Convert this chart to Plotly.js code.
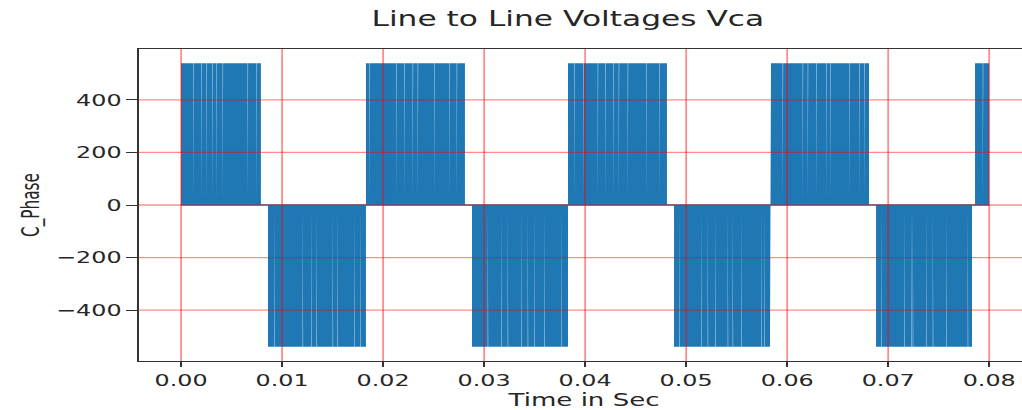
<!DOCTYPE html>
<html>
<head>
<meta charset="utf-8">
<script src="https://cdn.plot.ly/plotly-3.0.1.min.js"></script>
<style>
  html, body { margin: 0; padding: 0; overflow: hidden; background: #fff; width: 1022px; height: 410px; }
  #wrap { width: 1022px; height: 410px; overflow: hidden; }
  #chart { width: 698px; height: 410px; transform: scaleX(1.49); transform-origin: 0 0; }
</style>
</head>
<body>
<div id="wrap"><div id="chart"></div></div>
<script>
// ---- data ----
const chartTitle = 'Line to Line Voltages Vca';
const xLabel = 'Time in Sec';
const yLabel = 'C_Phase';

// PWM blocks of the line voltage (seconds) and their level (V)
const blockStart = [0.0000, 0.0086, 0.0183, 0.0288, 0.0383, 0.0488, 0.0584, 0.0688, 0.0786];
const blockEnd   = [0.0079, 0.0183, 0.0281, 0.0383, 0.0481, 0.0583, 0.0681, 0.0783, 0.0800];
const blockLevel = [540, -540, 540, -540, 540, -540, 540, -540, 540];

// visible notches (short zero-voltage gaps) inside each block (seconds)
const notches1 = [0.00124, 0.00205, 0.00255, 0.00309, 0.00354, 0.00414, 0.00661, 0.00750];
const notches2 = [0.00926, 0.01206, 0.01289, 0.01339, 0.01503, 0.01547, 0.01718, 0.01777];
const notches3 = [0.01866, 0.02131, 0.02213, 0.02295, 0.02345, 0.02510, 0.02658, 0.02731];
const notches4 = [0.03038, 0.03170, 0.03236, 0.03368, 0.03434, 0.03500, 0.03599, 0.03764];
const notches5 = [0.03896, 0.03985, 0.04127, 0.04200, 0.04282, 0.04335, 0.04424, 0.04606, 0.04738];
const notches6 = [0.04936, 0.05150, 0.05216, 0.05292, 0.05414, 0.05463, 0.05547, 0.05745, 0.05777];
const notches7 = [0.05958, 0.06156, 0.06206, 0.06289, 0.06388, 0.06428, 0.06619, 0.06718, 0.06767];
const notches8 = [0.06933, 0.07163, 0.07230, 0.07246, 0.07378, 0.07444, 0.07576, 0.07790];
const notches9 = [0.07939];

const xTicks = [0, 0.01, 0.02, 0.03, 0.04, 0.05, 0.06, 0.07, 0.08];
const xTickText = ['0.00', '0.01', '0.02', '0.03', '0.04', '0.05', '0.06', '0.07', '0.08'];
const yTicks = [-400, -200, 0, 200, 400];
const yTickText = ['\u2212400', '\u2212200', '0', '200', '400'];

// ---- build the waveform path ----
const allNotches = [notches1, notches2, notches3, notches4, notches5, notches6, notches7, notches8, notches9];
const halfNotch = 0.00002;
const xs = [], ys = [];
for (let i = 0; i < blockStart.length; i++) {
  const L = blockLevel[i];
  xs.push(blockStart[i], blockStart[i]); ys.push(0, L);
  for (const n of allNotches[i]) {
    xs.push(n - halfNotch, n - halfNotch, n + halfNotch, n + halfNotch);
    ys.push(L, 0, 0, L);
  }
  xs.push(blockEnd[i], blockEnd[i]); ys.push(L, 0);
}

const blue = '#1f77b4';
const traces = [
  { x: [blockStart[0], blockEnd[blockEnd.length - 1]], y: [0, 0], mode: 'lines',
    line: { color: blue, width: 1.5 }, hoverinfo: 'skip', showlegend: false },
  { x: xs, y: ys, mode: 'lines', fill: 'tozeroy', fillcolor: blue,
    line: { color: blue, width: 0 }, showlegend: false, name: 'Vca' }
];

const gridColor = 'rgba(255,0,0,0.45)';
const shapes = [];
xTicks.forEach(v => shapes.push({ type: 'line', xref: 'x', yref: 'paper', x0: v, x1: v, y0: 0, y1: 1,
  line: { color: gridColor, width: 1.2 }, layer: 'above' }));
yTicks.forEach(v => shapes.push({ type: 'line', xref: 'paper', yref: 'y', x0: 0, x1: 1, y0: v, y1: v,
  line: { color: gridColor, width: 1.3 }, layer: 'above' }));

const font = 'DejaVu Sans, sans-serif';
const layout = {
  width: 698, height: 410,
  margin: { l: 93.3, r: 6.7, t: 49, b: 49, pad: 0 },
  paper_bgcolor: '#fff', plot_bgcolor: '#fff',
  font: { family: font, color: '#262626', size: 16 },
  title: { text: chartTitle, font: { family: font, size: 21, color: '#262626' },
           x: 0.546, xref: 'container', xanchor: 'center', y: 0.955, yanchor: 'middle' },
  xaxis: {
    range: [-0.00421, 0.0840], tickvals: xTicks, ticktext: xTickText,
    showgrid: false, zeroline: false, showline: true, mirror: true, linecolor: '#333', linewidth: 1.2,
    ticks: 'outside', ticklen: 5, tickwidth: 1, tickcolor: '#333',
    tickfont: { family: font, size: 16, color: '#262626' },
    title: { text: xLabel, font: { family: font, size: 17.5, color: '#262626' }, standoff: 4 },
    automargin: false, fixedrange: true
  },
  yaxis: {
    range: [-594, 594], tickvals: yTicks, ticktext: yTickText,
    showgrid: false, zeroline: false, showline: true, mirror: true, linecolor: '#333', linewidth: 1.2,
    ticks: 'outside', ticklen: 7, tickwidth: 1, tickcolor: '#333',
    tickfont: { family: font, size: 16, color: '#262626' },
    title: { text: yLabel, font: { family: 'Liberation Sans Narrow, DejaVu Sans Condensed, sans-serif', size: 17, color: '#262626' }, standoff: 6 },
    automargin: false, fixedrange: true
  },
  shapes: shapes,
  showlegend: false
};

Plotly.newPlot('chart', traces, layout, { displayModeBar: false, staticPlot: true });
</script>
</body>
</html>
